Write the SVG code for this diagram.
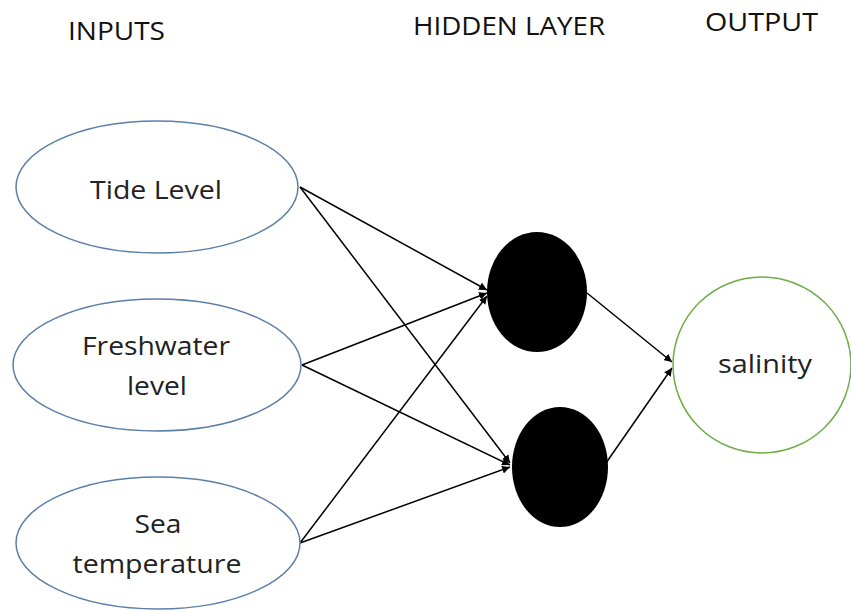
<svg xmlns="http://www.w3.org/2000/svg" width="851" height="612" viewBox="0 0 851 612">
<style>
.hdr{font-family:"Open Sans","Liberation Sans",sans-serif;font-size:25px;fill:#111}
.lbl{font-family:"Open Sans","Liberation Sans",sans-serif;font-size:26px;fill:#222;text-anchor:middle}
.inp{fill:#fff;stroke:#5b7fa6;stroke-width:1.5}
.hid{fill:#000}
.out{fill:#fff;stroke:#70ad47;stroke-width:1.5}
.edge{stroke:#000;stroke-width:1.5;fill:none;marker-end:url(#ah)}
</style>
<defs>
<marker id="ah" viewBox="0 0 10 10" refX="10" refY="5" markerWidth="8" markerHeight="8" markerUnits="userSpaceOnUse" orient="auto">
<path d="M0,0 L10,5 L0,10 z" fill="#000"/>
</marker>
</defs>
<rect width="851" height="612" fill="#fff"/>
<text class="hdr" x="68" y="40" textLength="97" lengthAdjust="spacingAndGlyphs">INPUTS</text>
<text class="hdr" x="413" y="35" textLength="192" lengthAdjust="spacingAndGlyphs">HIDDEN LAYER</text>
<text class="hdr" x="705" y="31" textLength="113" lengthAdjust="spacingAndGlyphs">OUTPUT</text>
<g id="connectors">
<line class="edge" x1="300" y1="187" x2="487" y2="290"/>
<line class="edge" x1="300" y1="187" x2="510" y2="463"/>
<line class="edge" x1="302" y1="365" x2="487" y2="293"/>
<line class="edge" x1="302" y1="365" x2="510" y2="465"/>
<line class="edge" x1="300" y1="543" x2="487" y2="296"/>
<line class="edge" x1="300" y1="543" x2="510" y2="467"/>
<line class="edge" x1="587" y1="293" x2="672" y2="362"/>
<line class="edge" x1="606" y1="463" x2="672" y2="368"/>
</g>
<g id="tide">
<ellipse class="inp" cx="157" cy="187" rx="141" ry="66"/>
<text class="lbl" x="156" y="199" textLength="132" lengthAdjust="spacingAndGlyphs">Tide Level</text>
</g>
<g id="freshwater">
<ellipse class="inp" cx="157" cy="365" rx="144" ry="66"/>
<text class="lbl" x="156" y="355" textLength="148" lengthAdjust="spacingAndGlyphs">Freshwater</text>
<text class="lbl" x="157" y="395" textLength="60" lengthAdjust="spacingAndGlyphs">level</text>
</g>
<g id="seatemp">
<ellipse class="inp" cx="158" cy="543" rx="142" ry="66"/>
<text class="lbl" x="158" y="533" textLength="47" lengthAdjust="spacingAndGlyphs">Sea</text>
<text class="lbl" x="157" y="573" textLength="169" lengthAdjust="spacingAndGlyphs">temperature</text>
</g>
<g id="hidden1">
<ellipse class="hid" cx="537" cy="292" rx="50" ry="60"/>
</g>
<g id="hidden2">
<ellipse class="hid" cx="560" cy="467" rx="48" ry="60"/>
</g>
<g id="salinity">
<ellipse class="out" cx="762" cy="365" rx="89" ry="88"/>
<text class="lbl" x="765" y="373" textLength="94" lengthAdjust="spacingAndGlyphs">salinity</text>
</g>
</svg>
